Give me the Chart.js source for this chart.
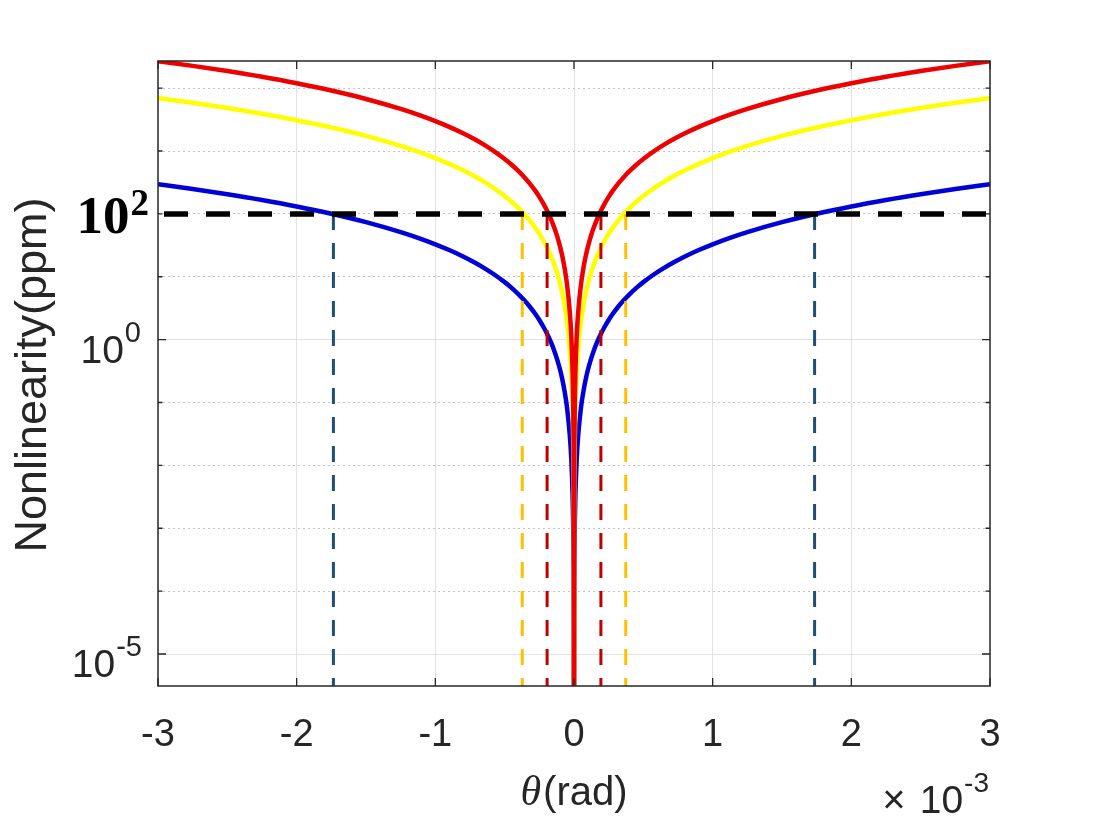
<!DOCTYPE html>
<html lang="en">
<head>
  <meta charset="UTF-8">
  <title>Nonlinearity vs theta</title>
  <script src="https://cdn.jsdelivr.net/npm/chart.js"></script>
  <style>
    html, body { margin: 0; padding: 0; background: #fff; overflow: hidden; }
    canvas { display: block; }
  </style>
</head>
<body>
  <canvas id="nlChart" width="1094" height="821"></canvas>

  <script>
    // theta in units of 1e-3 rad
    const theta = [-3, -2.75, -2.5, -2.25, -2, -1.75, -1.5, -1.25, -1.12, -1, -0.9, -0.8, -0.72, -0.65, -0.57, -0.5,
      -0.45, -0.4, -0.36, -0.32, -0.28, -0.25, -0.22, -0.19, -0.165, -0.14, -0.12, -0.1, -0.085, -0.07, -0.05,
      -0.03, -0.02, -0.01, -0.006, -0.003, -0.001, 0,
      0.001, 0.003, 0.006, 0.01, 0.02, 0.03, 0.05, 0.07, 0.085, 0.1, 0.12, 0.14, 0.165, 0.19, 0.22, 0.25,
      0.28, 0.32, 0.36, 0.4, 0.45, 0.5, 0.57, 0.65, 0.72, 0.8, 0.9, 1, 1.12, 1.25, 1.5, 1.75, 2, 2.25, 2.5, 2.75, 3];

    // nonlinearity in ppm
    const redValues = [26874, 22582, 18663, 15117, 11944, 9145, 6719, 4666, 3746, 2986, 2419, 1911, 1548, 1262, 970.2, 746.5,
      604.7, 477.8, 387.0, 305.8, 234.1, 186.6, 144.5, 107.8, 81.29, 58.53, 43.00, 29.86, 21.57, 14.63, 7.465,
      2.687, 1.194, 0.2986, 0.1075, 0.0269, 0.00299, 1e-7,
      0.00299, 0.0269, 0.1075, 0.2986, 1.194, 2.687, 7.465, 14.63, 21.57, 29.86, 43.00, 58.53, 81.29, 107.8, 144.5, 186.6,
      234.1, 305.8, 387.0, 477.8, 604.7, 746.5, 970.2, 1262, 1548, 1911, 2419, 2986, 3746, 4666, 6719, 9145, 11944, 15117, 18663, 22582, 26874];
    const yellowValues = [6944, 5835, 4823, 3906, 3086, 2363, 1736, 1206, 967.9, 771.6, 625.0, 493.8, 400.0, 326.0, 250.7, 192.9,
      156.2, 123.5, 100.0, 79.01, 60.49, 48.23, 37.35, 27.85, 21.01, 15.12, 11.11, 7.716, 5.575, 3.781, 1.929,
      0.6944, 0.3086, 0.0772, 0.0278, 0.00694, 0.000772, 1e-7,
      0.000772, 0.00694, 0.0278, 0.0772, 0.3086, 0.6944, 1.929, 3.781, 5.575, 7.716, 11.11, 15.12, 21.01, 27.85, 37.35, 48.23,
      60.49, 79.01, 100.0, 123.5, 156.2, 192.9, 250.7, 326.0, 400.0, 493.8, 625.0, 771.6, 967.9, 1206, 1736, 2363, 3086, 3906, 4823, 5835, 6944];
    const blueValues = [295.6, 248.4, 205.3, 166.3, 131.4, 100.6, 73.89, 51.31, 41.19, 32.84, 26.60, 21.02, 17.02, 13.87, 10.67, 8.21,
      6.650, 5.254, 4.256, 3.363, 2.575, 2.053, 1.589, 1.186, 0.8941, 0.6437, 0.4729, 0.3284, 0.2373, 0.1609, 0.0821,
      0.02956, 0.01314, 0.00328, 0.00118, 0.000296, 0.0000328, 1e-7,
      0.0000328, 0.000296, 0.00118, 0.00328, 0.01314, 0.02956, 0.0821, 0.1609, 0.2373, 0.3284, 0.4729, 0.6437, 0.8941, 1.186, 1.589, 2.053,
      2.575, 3.363, 4.256, 5.254, 6.650, 8.21, 10.67, 13.87, 17.02, 21.02, 26.60, 32.84, 41.19, 51.31, 73.89, 100.6, 131.4, 166.3, 205.3, 248.4, 295.6];

    // 100 ppm level and where each curve reaches it
    const threshold = 100;
    const crossTheta = [-1.735, -0.373, -0.194, 0.194, 0.373, 1.735];

    const xTicks = [-3, -2, -1, 0, 1, 2, 3];
    const yMin = 3.1e-6;
    const yMax = 27000;
    const yDecades = [1e-5, 1e-4, 1e-3, 1e-2, 1e-1, 1, 10, 100, 1000, 10000];
    const yMajor = [1e-5, 1];

    const crossColors = ['#1f4e79', '#ffc000', '#c00000', '#c00000', '#ffc000', '#1f4e79'];
    const axisColor = '#262626';
    const sansFont = '"Liberation Sans", Arial, sans-serif';

    function toPoints(xs, ys) {
      return xs.map((x, i) => ({ x: x, y: ys[i] }));
    }

    const curveSets = [
      { data: toPoints(theta, redValues), borderColor: '#ee0000', order: 1 },
      { data: toPoints(theta, yellowValues), borderColor: '#ffff00', order: 2 },
      { data: toPoints(theta, blueValues), borderColor: '#0000d8', order: 3 }
    ].map(d => Object.assign(d, {
      borderWidth: 4.5, pointRadius: 0, cubicInterpolationMode: 'monotone', borderJoinStyle: 'round'
    }));

    const crossSets = crossTheta.map((t, i) => ({
      data: [{ x: t, y: threshold }, { x: t, y: yMin }],
      borderColor: crossColors[i],
      borderWidth: 3,
      borderDash: [16, 13],
      pointRadius: 0,
      order: 0
    }));

    const thresholdSet = {
      data: [{ x: xTicks[0], y: threshold }, { x: xTicks[xTicks.length - 1], y: threshold }],
      borderColor: '#000000',
      borderWidth: 5.5,
      borderDash: [24, 18],
      borderDashOffset: 36,
      pointRadius: 0,
      order: 0
    };

    // text with a superscript, right aligned
    function drawPow(ctx, base, exp, right, y0, baseFont, expFont, baseDy, expDy) {
      ctx.font = expFont;
      const we = ctx.measureText(exp).width;
      ctx.font = baseFont;
      const wb = ctx.measureText(base).width;
      ctx.textAlign = 'left';
      ctx.textBaseline = 'alphabetic';
      ctx.fillText(base, right - we - wb - 1, y0 + baseDy);
      ctx.font = expFont;
      ctx.fillText(exp, right - we, y0 + expDy);
    }

    const framePlugin = {
      id: 'frame',
      afterDraw(chart) {
        const ctx = chart.ctx;
        const area = chart.chartArea;
        const xs = chart.scales.x;
        const ys = chart.scales.y;
        ctx.save();

        // box
        ctx.strokeStyle = axisColor;
        ctx.lineWidth = 1.5;
        ctx.strokeRect(area.left, area.top, area.right - area.left, area.bottom - area.top);

        // inward ticks
        ctx.lineWidth = 1.3;
        ctx.beginPath();
        xTicks.forEach(v => {
          const px = xs.getPixelForValue(v);
          ctx.moveTo(px, area.bottom); ctx.lineTo(px, area.bottom - 8);
          ctx.moveTo(px, area.top); ctx.lineTo(px, area.top + 8);
        });
        yDecades.forEach(v => {
          const py = ys.getPixelForValue(v);
          const len = yMajor.includes(v) ? 8 : 4.5;
          ctx.moveTo(area.left, py); ctx.lineTo(area.left + len, py);
          ctx.moveTo(area.right, py); ctx.lineTo(area.right - len, py);
        });
        ctx.stroke();

        // y tick labels
        ctx.fillStyle = axisColor;
        const baseF = '39px ' + sansFont;
        const expF = '29px ' + sansFont;
        drawPow(ctx, '10', '0', 141, ys.getPixelForValue(1), baseF, expF, 23, 2);
        drawPow(ctx, '10', '-5', 142, ys.getPixelForValue(1e-5), baseF, expF, 23, 2);

        // bold 10^2 marker
        ctx.fillStyle = '#000000';
        drawPow(ctx, '10', '2', 149, ys.getPixelForValue(threshold),
          'bold 53px "Liberation Serif", "Times New Roman", serif',
          'bold 37px "Liberation Serif", "Times New Roman", serif', 19, 1);

        // y title
        ctx.fillStyle = axisColor;
        ctx.save();
        ctx.translate(46, 375);
        ctx.rotate(-Math.PI / 2);
        ctx.font = '45px ' + sansFont;
        ctx.textAlign = 'center';
        ctx.textBaseline = 'alphabetic';
        ctx.fillText('Nonlinearity(ppm)', 0, 0);
        ctx.restore();

        // x title: italic theta + (rad)
        const thF = 'italic 42px "Liberation Serif", "Times New Roman", serif';
        const radF = '40px ' + sansFont;
        ctx.font = thF;
        const wt = ctx.measureText('θ').width;
        ctx.font = radF;
        const wr = ctx.measureText('(rad)').width;
        const cx = (area.left + area.right) / 2;
        const startX = cx - (wt + wr + 2) / 2;
        ctx.textAlign = 'left';
        ctx.font = thF;
        ctx.fillText('θ', startX, 805);
        ctx.font = radF;
        ctx.fillText('(rad)', startX + wt + 2, 805);

        // x exponent
        const rightX = 989;
        ctx.font = '28px ' + sansFont;
        const we = ctx.measureText('-3').width;
        ctx.textAlign = 'left';
        ctx.fillText('-3', rightX - we, 792);
        ctx.font = '39px ' + sansFont;
        const w10 = ctx.measureText('10').width;
        ctx.fillText('10', rightX - we - w10 - 1, 813);
        ctx.font = '40px ' + sansFont;
        ctx.textAlign = 'center';
        ctx.fillText('×', 894, 813);

        ctx.restore();
      }
    };

    new Chart(document.getElementById('nlChart').getContext('2d'), {
      type: 'line',
      data: { datasets: [thresholdSet].concat(crossSets, curveSets) },
      options: {
        responsive: false,
        animation: false,
        events: [],
        layout: { padding: { left: 0, top: 61, right: 104, bottom: 0 } },
        plugins: { legend: { display: false }, tooltip: { enabled: false } },
        scales: {
          x: {
            type: 'linear',
            min: xTicks[0],
            max: xTicks[xTicks.length - 1],
            ticks: {
              stepSize: 1,
              color: axisColor,
              padding: 27,
              font: { family: sansFont, size: 38 }
            },
            grid: {
              drawTicks: false,
              color: c => (c.tick && Math.abs(c.tick.value) < 3) ? '#e2e2e2' : 'rgba(0,0,0,0)'
            },
            border: { display: false },
            afterFit: scale => { scale.height = 135; scale.paddingLeft = 0; scale.paddingRight = 0; }
          },
          y: {
            type: 'logarithmic',
            min: yMin,
            max: yMax,
            afterBuildTicks: scale => {
              scale.ticks = yDecades.map(v => ({ value: v, major: yMajor.includes(v) }));
            },
            ticks: { display: false },
            grid: {
              drawTicks: false,
              color: c => (c.tick && yMajor.includes(c.tick.value)) ? '#e2e2e2' : '#c4c4c4'
            },
            border: {
              display: false,
              dash: c => (c.tick && !yMajor.includes(c.tick.value)) ? [2, 3] : []
            },
            afterFit: scale => { scale.width = 158; scale.paddingTop = 0; scale.paddingBottom = 0; }
          }
        }
      },
      plugins: [framePlugin]
    });
  </script>
</body>
</html>
